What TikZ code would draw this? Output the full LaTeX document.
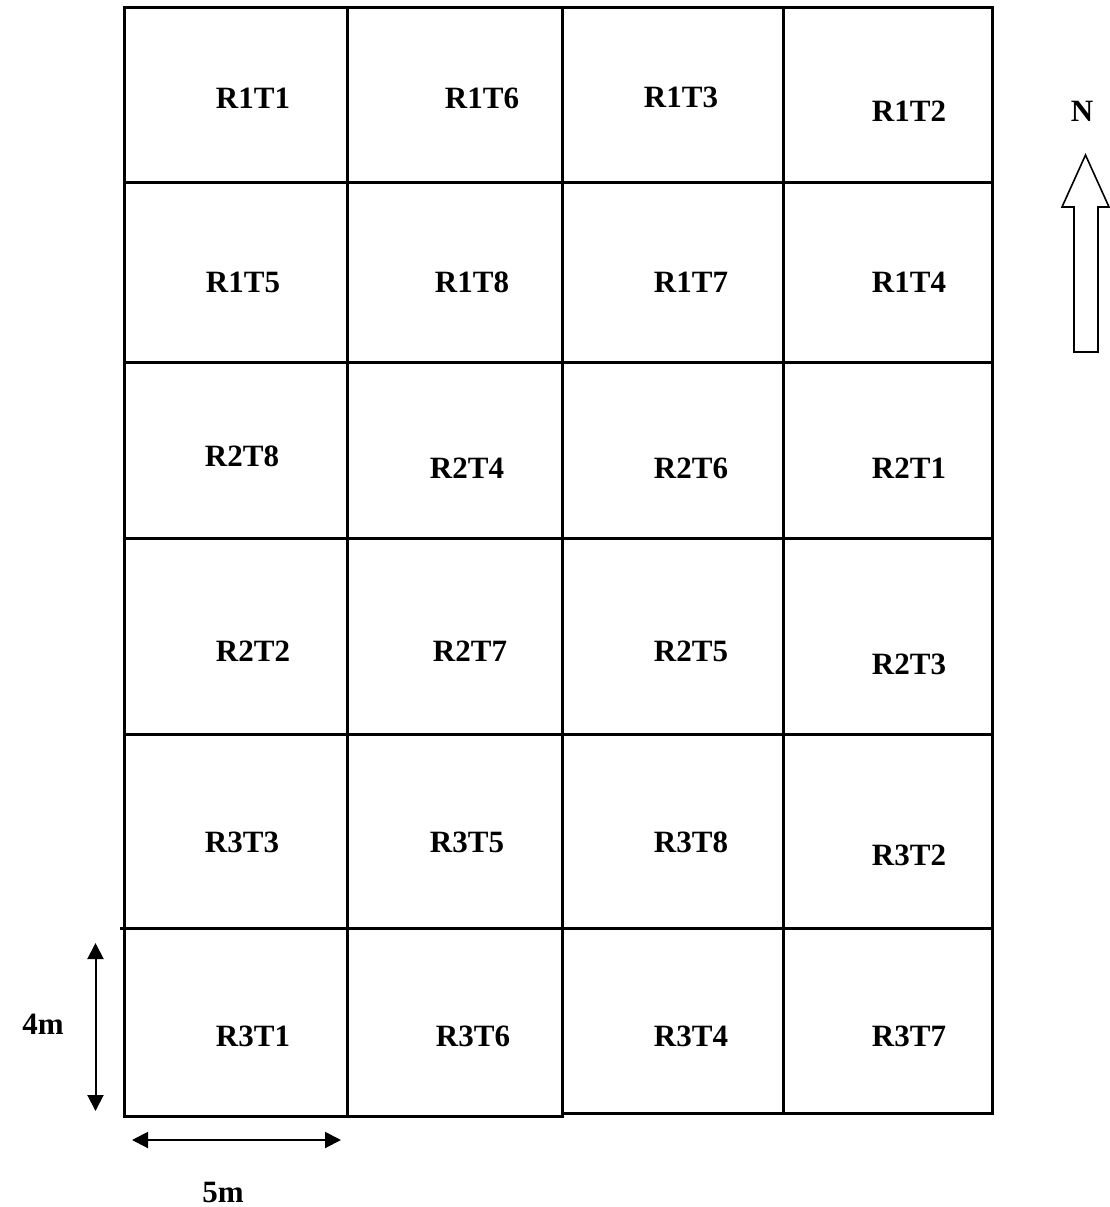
\documentclass[tikz,border=0pt]{standalone}
\usepackage{fontspec}
\setmainfont{Liberation Serif}
\usetikzlibrary{arrows.meta}
\begin{document}
\begin{tikzpicture}[x=1pt,y=-1pt,
  gridline/.style={line width=3pt,line cap=rect},
  lbl/.style={font=\fontsize{31}{37}\selectfont\bfseries,inner sep=0pt},
  dimarrow/.style={line width=2pt,{Triangle[length=16pt,width=16pt]}-{Triangle[length=16pt,width=16pt]}},
  northarrow/.style={line width=1.6pt,line join=miter}]
\useasboundingbox (0,0) rectangle (1110,1207);
% horizontal lines
\draw[gridline] (124,8) -- (992,8);
\draw[gridline] (124,182) -- (992,182);
\draw[gridline] (124,362) -- (992,362);
\draw[gridline] (124,538) -- (992,538);
\draw[gridline] (124,734) -- (992,734);
\draw[gridline] (121,928) -- (992,928);
\draw[gridline] (124,1116) -- (562,1116);
\draw[gridline] (562,1113) -- (992,1113);
% vertical lines
\draw[gridline] (124,8) -- (124,1116);
\draw[gridline] (347,8) -- (347,1116);
\draw[gridline] (562,8) -- (562,1116);
\draw[gridline] (783,8) -- (783,1113);
\draw[gridline] (992,8) -- (992,1113);
% labels
\node[lbl] (r1t1) at (253,98) {R1T1};
\node[lbl] (r1t6) at (482,98) {R1T6};
\node[lbl] (r1t3) at (681,97) {R1T3};
\node[lbl] (r1t2) at (909,111) {R1T2};
\node[lbl] (r1t5) at (243,282) {R1T5};
\node[lbl] (r1t8) at (472,282) {R1T8};
\node[lbl] (r1t7) at (691,282) {R1T7};
\node[lbl] (r1t4) at (909,282) {R1T4};
\node[lbl] (r2t8) at (242,456) {R2T8};
\node[lbl] (r2t4) at (467,468) {R2T4};
\node[lbl] (r2t6) at (691,468) {R2T6};
\node[lbl] (r2t1) at (909,468) {R2T1};
\node[lbl] (r2t2) at (253,651) {R2T2};
\node[lbl] (r2t7) at (470,651) {R2T7};
\node[lbl] (r2t5) at (691,651) {R2T5};
\node[lbl] (r2t3) at (909,664) {R2T3};
\node[lbl] (r3t3) at (242,842) {R3T3};
\node[lbl] (r3t5) at (467,842) {R3T5};
\node[lbl] (r3t8) at (691,842) {R3T8};
\node[lbl] (r3t2) at (909,855) {R3T2};
\node[lbl] (r3t1) at (253,1036) {R3T1};
\node[lbl] (r3t6) at (473,1036) {R3T6};
\node[lbl] (r3t4) at (691,1036) {R3T4};
\node[lbl] (r3t7) at (909,1036) {R3T7};
% north
\node[lbl] (north) at (1082,111) {N};
\draw[northarrow] (1085.5,155) -- (1109,207) -- (1098,207) -- (1098,352) -- (1074,352) -- (1074,207) -- (1062,207) -- cycle;
% dimensions
\coordinate (vtop) at (95.5,943);
\coordinate (vbot) at (95.5,1111);
\draw[dimarrow] (vtop) -- (vbot);
\node[lbl] (fourm) at (43,1024) {4m};
\coordinate (hleft) at (132,1140);
\coordinate (hright) at (341,1140);
\draw[dimarrow] (hleft) -- (hright);
\node[lbl] (fivem) at (223,1192) {5m};
\end{tikzpicture}
\end{document}
